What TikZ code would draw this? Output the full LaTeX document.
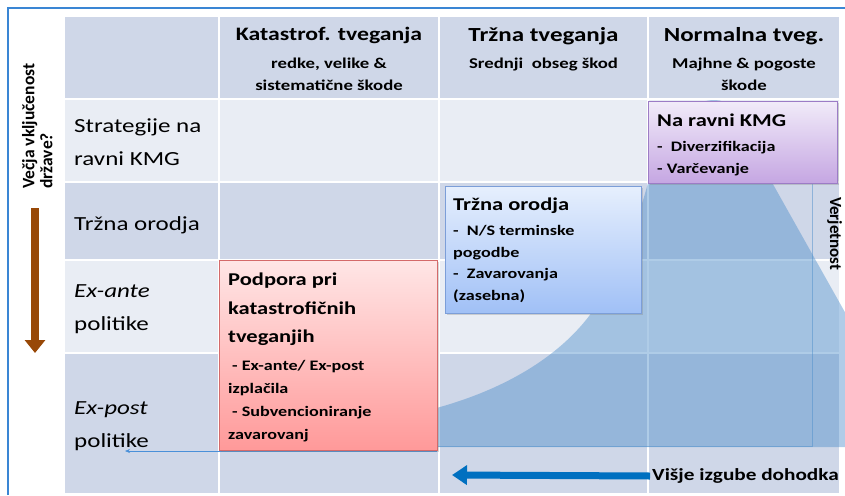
\documentclass[tikz,border=0pt]{standalone}
\usepackage{fontspec}
\setmainfont{Carlito}[FakeStretch=1.25]
\newfontfamily\sidefont{Carlito}
\usetikzlibrary{positioning, arrows.meta, shadows}

\definecolor{rowdark}{HTML}{CFD7E8}
\definecolor{rowlight}{HTML}{E9EDF4}
\definecolor{framecol}{HTML}{3A86D4}
\definecolor{distcol}{HTML}{4F8FCB}
\definecolor{axiscol}{HTML}{4A90D9}
\definecolor{lossarrow}{HTML}{0070C0}
\definecolor{statearrow}{HTML}{984807}
\definecolor{redtop}{HTML}{FFE6E6}
\definecolor{redbot}{HTML}{FF9999}
\definecolor{redline}{HTML}{D46A6A}
\definecolor{bluetop}{HTML}{E6EFFD}
\definecolor{bluebot}{HTML}{A0C0F6}
\definecolor{blueline}{HTML}{7C9ED8}
\definecolor{purptop}{HTML}{F1EBF9}
\definecolor{purpbot}{HTML}{C5A6E2}
\definecolor{purpline}{HTML}{9C7CC6}

\begin{document}
\begin{tikzpicture}[x=1pt, y=-1pt,
    gridline/.style={white, line width=1.5pt},
    colhead/.style={anchor=north, align=center, inner sep=0pt, font=\bfseries\fontsize{20}{24}\selectfont},
    colsub/.style={anchor=north, align=center, inner sep=0pt, font=\bfseries\fontsize{15}{22}\selectfont},
    rowhead/.style={anchor=north west, align=left, inner sep=0pt, font=\fontsize{20}{33}\selectfont},
    toolbox/.style={draw, line width=0.8pt, anchor=north west, inner sep=0pt,
      drop shadow={shadow xshift=2pt, shadow yshift=-2pt, opacity=0.3}},
    boxtitle/.style={anchor=north west, align=left, inner sep=0pt, font=\bfseries\fontsize{18}{28.5}\selectfont},
    boxitems/.style={anchor=north west, align=left, inner sep=0pt, font=\bfseries\fontsize{14.5}{23}\selectfont},
  ]
  \useasboundingbox (0,0) rectangle (845,495);

  \draw[framecol, line width=1.3pt] (8,495) -- (8,8) -- (845,8);

  % table
  \foreach \ya/\yb/\rowcol in {17/99/rowdark, 99/182/rowlight, 182/260/rowdark, 260/353/rowlight, 353/493/rowdark}
    \fill[\rowcol] (65,\ya) rectangle (839,\yb);
  \foreach \y in {99,182,260,353}
    \draw[gridline] (65,\y) -- (839,\y);
  \foreach \x in {219,439,648}
    \draw[gridline] (\x,17) -- (\x,493);

  % distribution
  \fill[distcol, opacity=0.45] (425,411) .. controls (510,390) and (570,350) .. (600,300)
    .. controls (625,255) and (640,215) .. (650,175)
    .. controls (665,120) and (690,100) .. (715,100)
    .. controls (722,100) and (726,103) .. (729,106)
    -- (851,323) -- (851,447) -- (425,447) -- cycle;
  \draw[distcol, opacity=0.5, line width=0.6pt] (812,183) -- (812,446) -- (438,446);

  \coordinate (axisright) at (437,451);
  \coordinate (axisleft) at (125,451);
  \draw[axiscol, line width=0.6pt, -{Stealth[length=5pt, width=4pt]}] (axisright) -- (axisleft);

  % boxes
  \node[toolbox, draw=redline, top color=redtop, bottom color=redbot,
    minimum width=218pt, minimum height=190pt] (katbox) at (219,260) {};
  \node[boxtitle, below right=13pt and 9pt of katbox.north west] (kattitle)
    {Podpora pri\\katastrofičnih\\tveganjih};
  \node[boxitems, below right=100pt and 9pt of katbox.north west] (katitems)
    {\hspace{4pt}- Ex-ante/ Ex-post\\izplačila\\\hspace{4pt}- Subvencioniranje\\zavarovanj};

  \node[toolbox, draw=blueline, top color=bluetop, bottom color=bluebot,
    minimum width=196pt, minimum height=127pt] (trgbox) at (445,186) {};
  \node[boxtitle, below right=12pt and 8pt of trgbox.north west] (trgtitle) {Tržna orodja};
  \node[boxitems, font=\bfseries\fontsize{14.5}{21.7}\selectfont,
    below right=39pt and 8pt of trgbox.north west] (trgitems)
    {-\ \ N/S terminske\\pogodbe\\-\ \ Zavarovanja\\(zasebna)};

  \node[toolbox, draw=purpline, top color=purptop, bottom color=purpbot,
    minimum width=189pt, minimum height=82pt] (kmgbox) at (648,101) {};
  \node[boxtitle, below right=13pt and 9pt of kmgbox.north west] (kmgtitle) {Na ravni KMG};
  \node[boxitems, font=\bfseries\fontsize{14.5}{22}\selectfont,
    below right=40pt and 9pt of kmgbox.north west] (kmgitems)
    {-\ \ Diverzifikacija\\- Varčevanje};

  % headers
  \node[colhead, font=\bfseries\fontsize{19}{24}\selectfont] (kathead) at (329,27) {Katastrof. tveganja};
  \node[colsub] (katsub) at (329,58) {redke, velike \&\\sistematične škode};
  \node[colhead] (trghead) at (543.5,27) {Tržna tveganja};
  \node[colsub] (trgsub) at (543.5,58) {Srednji\ \ obseg škod};
  \node[colhead] (normhead) at (744,27) {Normalna tveg.};
  \node[colsub] (normsub) at (744,58) {Majhne \& pogoste\\škode};

  \node[rowhead] (strat) at (74,119) {Strategije na\\ravni KMG};
  \node[rowhead] (trzna) at (74,216) {Tržna orodja};
  \node[rowhead] (exante) at (74,284) {\textit{Ex-ante}\\politike};
  \node[rowhead] (expost) at (74,401) {\textit{Ex-post}\\politike};

  % axes
  \node[rotate=90, anchor=north west, align=left, inner sep=0pt,
    font=\sidefont\bfseries\fontsize{17.5}{18}\selectfont] (drzava) at (22,189) {Večja vključenost\\države?};
  \coordinate (statetop) at (35,208);
  \coordinate (statebot) at (35,353);
  \draw[statearrow, line width=8pt, -{Triangle[width=20pt, length=13pt]}] (statetop) -- (statebot);

  \node[anchor=west, inner sep=2pt, font=\bfseries\fontsize{17}{20}\selectfont] (losslabel) at (650,476) {Višje izgube dohodka};
  \coordinate (losstip) at (452,475);
  \draw[lossarrow, line width=7pt, -{Triangle[width=19pt, length=15pt]}] (losslabel.west) -- (losstip);

  \node[rotate=-90, anchor=base west, inner sep=0pt,
    font=\sidefont\bfseries\fontsize{17}{20}\selectfont] (verj) at (830,197) {Verjetnost};
\end{tikzpicture}
\end{document}
